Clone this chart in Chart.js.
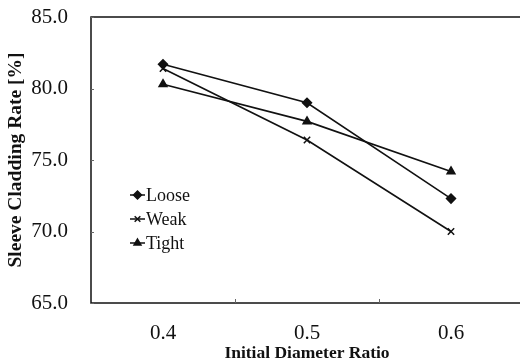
<!DOCTYPE html>
<html>
<head>
<meta charset="utf-8">
<script src="https://cdn.jsdelivr.net/npm/chart.js@4"></script>
<style>
  html, body { margin: 0; padding: 0; background: #fff; overflow: hidden; }
  #wrap { width: 530px; height: 364px; }
</style>
</head>
<body>
<div id="wrap"><canvas id="myChart" width="530" height="364"></canvas></div>
<script>
var categories = ['0.4', '0.5', '0.6'];
var loose = [81.7, 79.0, 72.3];
var weak = [81.4, 76.4, 70.0];
var tight = [80.3, 77.7, 74.2];
var yTicks = [65, 70, 75, 80, 85];

var serif = '"Liberation Serif", "Times New Roman", serif';

// box round the plot, small inner ticks, and the legend inside it
var framePlugin = {
  id: 'frame',
  afterDraw: function(chart) {
    var ctx = chart.ctx;
    var a = chart.chartArea;
    var xs = chart.scales.x;
    var ys = chart.scales.y;
    ctx.save();
    ctx.strokeStyle = '#111';
    ctx.lineWidth = 1.5;
    ctx.strokeRect(a.left, a.top, a.right - a.left, a.bottom - a.top);

    ctx.lineWidth = 1;
    ctx.strokeStyle = '#666';
    ctx.beginPath();
    yTicks.forEach(function(v) {
      var py = Math.round(ys.getPixelForValue(v)) + 0.5;
      ctx.moveTo(a.left, py);
      ctx.lineTo(a.left + 3, py);
    });
    for (var k = 1; k < categories.length; k++) {
      var px = Math.round((xs.getPixelForValue(k - 1) + xs.getPixelForValue(k)) / 2) + 0.5;
      ctx.moveTo(px, a.bottom);
      ctx.lineTo(px, a.bottom - 4);
    }
    ctx.stroke();

    var items = chart.data.datasets;
    ctx.strokeStyle = '#111';
    ctx.font = '18px ' + serif;
    ctx.textBaseline = 'middle';
    ctx.fillStyle = '#111';
    for (var i = 0; i < items.length; i++) {
      var y = 195 + i * 24;
      var x0 = 130, x1 = 145;
      ctx.beginPath();
      ctx.lineWidth = 1.5;
      ctx.moveTo(x0, y);
      ctx.lineTo(x1, y);
      ctx.stroke();
      Chart.helpers.drawPoint(ctx, {
        pointStyle: items[i].pointStyle,
        radius: 4,
        rotation: 0,
        borderWidth: 1.5
      }, (x0 + x1) / 2, y);
      ctx.fillText(items[i].label, x1 + 1, y + 1);
    }
    ctx.restore();
  }
};

function makeSet(label, data, style) {
  return {
    label: label,
    data: data,
    borderColor: '#111',
    backgroundColor: '#111',
    pointBackgroundColor: '#111',
    pointBorderColor: '#111',
    pointStyle: style,
    pointRadius: 4.5,
    pointBorderWidth: 1.5,
    borderWidth: 1.6,
    tension: 0
  };
}

var ctx = document.getElementById('myChart').getContext('2d');
var myChart = new Chart(ctx, {
  type: 'line',
  data: {
    labels: categories,
    datasets: [
      makeSet('Loose', loose, 'rectRot'),
      makeSet('Weak', weak, 'crossRot'),
      makeSet('Tight', tight, 'triangle')
    ]
  },
  options: {
    responsive: false,
    animation: false,
    layout: { padding: { top: 17, right: 7, bottom: 0, left: 0 } },
    plugins: {
      legend: { display: false },
      tooltip: { enabled: false }
    },
    scales: {
      x: {
        type: 'category',
        offset: true,
        grid: { display: false, drawTicks: false },
        border: { display: false },
        ticks: {
          color: '#111',
          padding: 18,
          font: { family: serif, size: 21 }
        },
        title: {
          display: true,
          text: 'Initial Diameter Ratio',
          color: '#111',
          padding: { top: 0, bottom: 0 },
          font: { family: serif, size: 17.5, weight: 'bold' }
        },
        afterFit: function(scale) { scale.height = 61; }
      },
      y: {
        min: 65,
        max: 85,
        afterBuildTicks: function(scale) {
          scale.ticks = yTicks.map(function(v) { return { value: v }; });
        },
        grid: { display: false, drawTicks: false },
        border: { display: false },
        ticks: {
          color: '#111',
          padding: 23,
          font: { family: serif, size: 21 },
          callback: function(v) { return Number(v).toFixed(1); }
        },
        title: {
          display: true,
          text: 'Sleeve Cladding Rate [%]',
          color: '#111',
          padding: { top: 4, bottom: 0 },
          font: { family: serif, size: 19.5, weight: 'bold' }
        },
        afterFit: function(scale) {
          scale.width = 91;
          scale.paddingTop = 0;
          scale.paddingBottom = 0;
        }
      }
    }
  },
  plugins: [framePlugin]
});
</script>
</body>
</html>
